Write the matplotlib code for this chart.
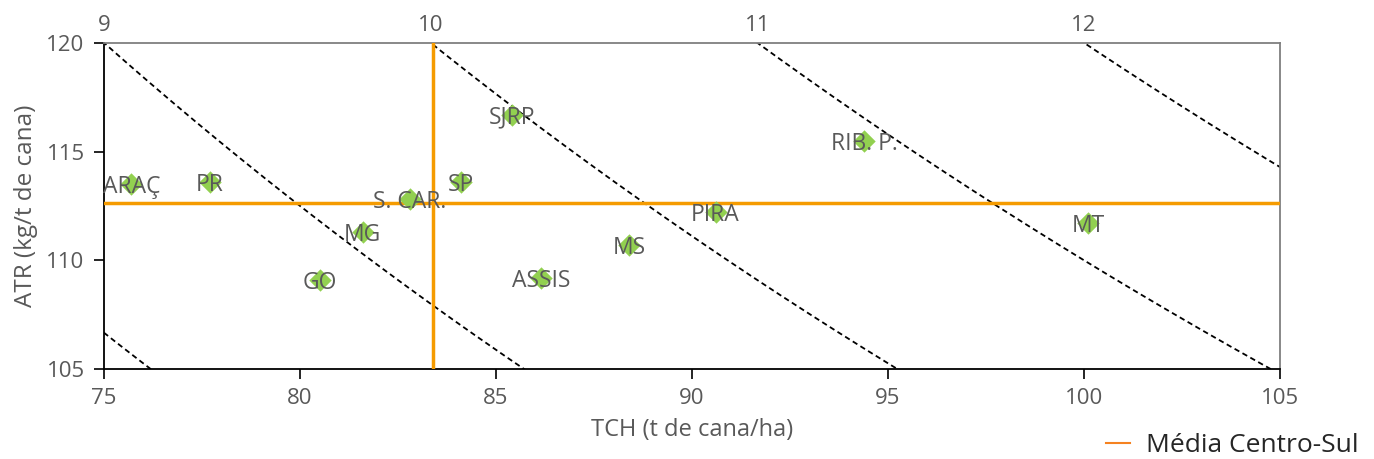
import numpy as np
import matplotlib.pyplot as plt

plt.rcParams['font.family'] = ['Open Sans', 'DejaVu Sans']

# dados por região
regioes = ['ARAÇ', 'PR', 'S. CAR.', 'SP', 'SJRP', 'MG', 'GO', 'ASSIS', 'MS', 'PIRA', 'RIB. P.', 'MT']
tch = [75.7, 77.7, 82.8, 84.1, 85.4, 81.6, 80.5, 86.15, 88.4, 90.6, 94.4, 100.1]
atr = [113.5, 113.6, 112.8, 113.6, 116.7, 111.3, 109.1, 109.2, 110.7, 112.2, 115.5, 111.7]

media_tch = 83.4
media_atr = 112.65

# curvas de TAH (t ATR/ha)
tah_niveis = [8, 9, 10, 11, 12]
tah_rotulos = [9, 10, 11, 12]

cinza = '#595959'

fig = plt.figure(figsize=(13.74, 4.59), dpi=100)
ax = fig.add_axes([0.0757, 0.196, 0.8559, 0.7107])

xx = np.linspace(70, 110, 400)
for k in tah_niveis:
    ax.plot(xx, k * 1000 / xx, color='black', linestyle=(0, (3, 2)), linewidth=1.3, zorder=2)

ax.axhline(media_atr, color='#F59B00', linewidth=2.5, zorder=3)
ax.axvline(media_tch, color='#F59B00', linewidth=2.5, zorder=3)

ax.scatter(tch, atr, marker='D', s=130, color='#92D050', zorder=4, linewidths=0)
for nome, x, y in zip(regioes, tch, atr):
    ax.text(x, y, nome, ha='center', va='center_baseline', fontsize=16.5, color=cinza, zorder=5)

ax.set_xlim(75, 105)
ax.set_ylim(105, 120)
ax.set_xticks([75, 80, 85, 90, 95, 100, 105])
ax.set_yticks([105, 110, 115, 120])
ax.tick_params(axis='both', labelsize=16, labelcolor=cinza, direction='out', length=7, width=1.2, pad=7)
ax.set_xlabel('TCH (t de cana/ha)', fontsize=17, color=cinza, labelpad=6)
ax.set_ylabel('ATR (kg/t de cana)', fontsize=17.5, color=cinza, labelpad=6)

for lado in ['left', 'bottom']:
    ax.spines[lado].set_color('black')
    ax.spines[lado].set_linewidth(1.3)
for lado in ['top', 'right']:
    ax.spines[lado].set_color('#7F7F7F')
    ax.spines[lado].set_linewidth(1.3)

# eixo superior com os níveis de TAH
ax2 = ax.twiny()
ax2.set_xlim(ax.get_xlim())
ax2.set_xticks([k * 1000 / 120 for k in tah_rotulos])
ax2.set_xticklabels([str(k) for k in tah_rotulos])
ax2.tick_params(axis='x', length=0, labelsize=16, labelcolor=cinza, pad=5)
for s in ax2.spines.values():
    s.set_visible(False)

ax.plot([], [], color='#F58220', linewidth=1.5, label='Média Centro-Sul')
leg = fig.legend(loc='lower right', bbox_to_anchor=(1.006, -0.05), frameon=False,
                 fontsize=19, handlelength=0.9, handletextpad=0.6)
for t in leg.get_texts():
    t.set_color('#262626')

fig.savefig('out.png', dpi=100)
